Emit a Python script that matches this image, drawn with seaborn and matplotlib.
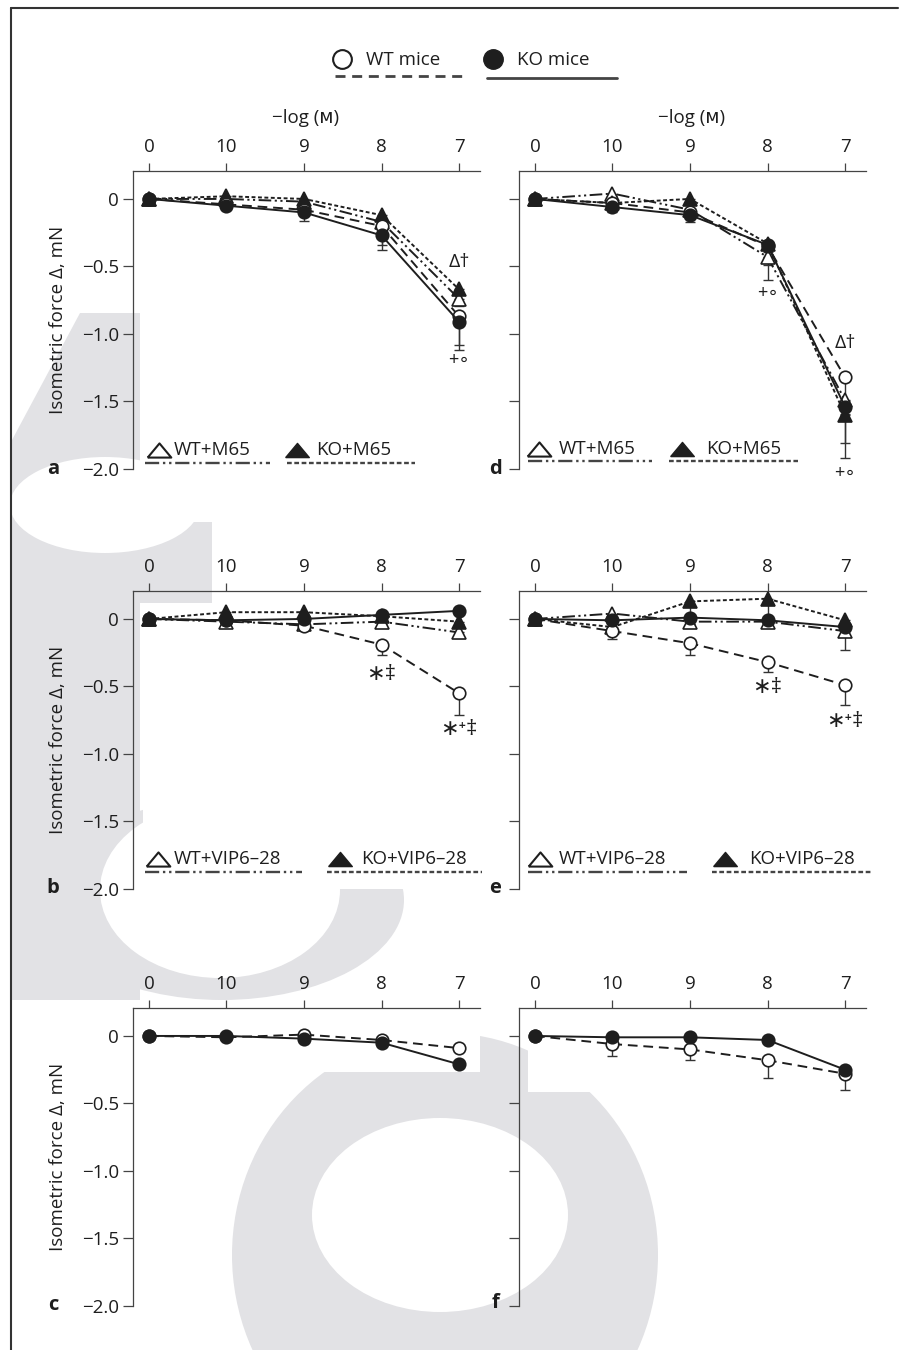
import matplotlib
matplotlib.use("Agg")
import numpy as np
import pandas as pd
import seaborn as sns
from matplotlib import pyplot as plt
from matplotlib.lines import Line2D
from matplotlib.patches import Ellipse, Polygon, Rectangle
from matplotlib.transforms import Affine2D

sns.set_theme(style="ticks")
plt.rcParams['font.family'] = ['Open Sans', 'DejaVu Sans']

W, H = 909, 1350
ink = "#1e1e1e"
spine_c = "#444444"
wm_grey = "#e2e2e5"

# x categories: -log(M), "0" = no agonist
conc_labels = ["0", "10", "9", "8", "7"]
y_ticks = [0, -0.5, -1.0, -1.5, -2.0]
y_ticklabels = ["0", "\u22120.5", "\u22121.0", "\u22121.5", "\u22122.0"]

# panel a (M65)
a_wt = [0.0, -0.04, -0.08, -0.20, -0.87]
a_wt_sem = [0.0, 0.02, 0.03, 0.14, 0.21]
a_ko = [0.0, -0.05, -0.10, -0.27, -0.91]
a_ko_sem = [0.0, 0.03, 0.06, 0.11, 0.21]
a_wt_drug = [0.0, 0.00, -0.02, -0.17, -0.74]
a_wt_drug_sem = [0.0, 0.01, 0.02, 0.05, 0.05]
a_ko_drug = [0.0, 0.02, 0.00, -0.12, -0.67]
a_ko_drug_sem = [0.0, 0.02, 0.02, 0.03, 0.09]

# panel d (M65)
d_wt = [0.0, -0.03, -0.10, -0.35, -1.32]
d_wt_sem = [0.0, 0.03, 0.05, 0.14, 0.18]
d_ko = [0.0, -0.06, -0.12, -0.34, -1.54]
d_ko_sem = [0.0, 0.04, 0.05, 0.05, 0.38]
d_wt_drug = [0.0, 0.04, -0.08, -0.43, -1.49]
d_wt_drug_sem = [0.0, 0.02, 0.04, 0.17, 0.10]
d_ko_drug = [0.0, -0.03, 0.00, -0.33, -1.60]
d_ko_drug_sem = [0.0, 0.03, 0.02, 0.03, 0.21]

# panel b (VIP6-28)
b_wt = [0.0, -0.01, -0.05, -0.19, -0.55]
b_wt_sem = [0.0, 0.01, 0.02, 0.08, 0.16]
b_ko = [0.0, -0.01, 0.00, 0.03, 0.06]
b_ko_sem = [0.0, 0.01, 0.01, 0.01, 0.01]
b_wt_drug = [0.0, -0.02, -0.04, -0.02, -0.10]
b_wt_drug_sem = [0.0, 0.01, 0.02, 0.02, 0.04]
b_ko_drug = [0.0, 0.05, 0.05, 0.02, -0.02]
b_ko_drug_sem = [0.0, 0.01, 0.01, 0.01, 0.02]

# panel e (VIP6-28)
e_wt = [0.0, -0.09, -0.18, -0.32, -0.49]
e_wt_sem = [0.0, 0.06, 0.09, 0.07, 0.15]
e_ko = [0.0, -0.01, 0.01, -0.01, -0.06]
e_ko_sem = [0.0, 0.01, 0.01, 0.01, 0.06]
e_wt_drug = [0.0, 0.04, -0.02, -0.02, -0.09]
e_wt_drug_sem = [0.0, 0.01, 0.02, 0.02, 0.14]
e_ko_drug = [0.0, -0.06, 0.13, 0.15, -0.01]
e_ko_drug_sem = [0.0, 0.03, 0.12, 0.15, 0.02]

# panels c, f (no antagonist)
c_wt = [0.0, -0.01, 0.01, -0.03, -0.09]
c_wt_sem = [0.0, 0.01, 0.01, 0.03, 0.02]
c_ko = [0.0, 0.00, -0.02, -0.05, -0.21]
c_ko_sem = [0.0, 0.01, 0.01, 0.03, 0.03]
f_wt = [0.0, -0.06, -0.10, -0.18, -0.28]
f_wt_sem = [0.0, 0.09, 0.08, 0.13, 0.12]
f_ko = [0.0, -0.01, -0.01, -0.03, -0.25]
f_ko_sem = [0.0, 0.01, 0.01, 0.01, 0.02]

panels = {
    "a": [("WTd", a_wt_drug, a_wt_drug_sem), ("KOd", a_ko_drug, a_ko_drug_sem),
          ("WT", a_wt, a_wt_sem), ("KO", a_ko, a_ko_sem)],
    "d": [("WTd", d_wt_drug, d_wt_drug_sem), ("KOd", d_ko_drug, d_ko_drug_sem),
          ("WT", d_wt, d_wt_sem), ("KO", d_ko, d_ko_sem)],
    "b": [("WTd", b_wt_drug, b_wt_drug_sem), ("KOd", b_ko_drug, b_ko_drug_sem),
          ("WT", b_wt, b_wt_sem), ("KO", b_ko, b_ko_sem)],
    "e": [("WTd", e_wt_drug, e_wt_drug_sem), ("KOd", e_ko_drug, e_ko_drug_sem),
          ("WT", e_wt, e_wt_sem), ("KO", e_ko, e_ko_sem)],
    "c": [("WT", c_wt, c_wt_sem), ("KO", c_ko, c_ko_sem)],
    "f": [("WT", f_wt, f_wt_sem), ("KO", f_ko, f_ko_sem)],
}

styles = {
    "WT": dict(marker="o", markersize=9, markerfacecolor="white", linestyle=(0, (5, 3))),
    "KO": dict(marker="o", markersize=9, markerfacecolor=ink, linestyle="-"),
    "WTd": dict(marker="^", markersize=9.5, markerfacecolor="white",
                linestyle=(0, (6.5, 1.8, 1.1, 1.8, 1.1, 1.8))),
    "KOd": dict(marker="^", markersize=9.5, markerfacecolor=ink, linestyle=(0, (2, 1.3))),
}

# significance marks: (panel, x position, y value, text, size)
notes = [
    ("a", 4, -0.47, "\u0394\u2020", 14), ("a", 4, -1.19, "+\u2218", 13),
    ("d", 3, -0.70, "+\u2218", 13), ("d", 4, -1.07, "\u0394\u2020", 14),
    ("d", 4, -2.03, "+\u2218", 13),
    ("b", 3, -0.41, "\u2217\u2021", 16), ("b", 4, -0.82, "\u2217\u207a\u2021", 16),
    ("e", 3, -0.51, "\u2217\u2021", 16), ("e", 4, -0.76, "\u2217\u207a\u2021", 16),
]

fig = plt.figure(figsize=(W / 100, H / 100), dpi=100)
px = Affine2D().scale(1 / W, -1 / H).translate(0, 1) + fig.transFigure


def fig_line(x0, x1, y, **kw):
    fig.add_artist(Line2D([x0, x1], [y, y], transform=px, **kw))


def fig_marker(x, y, **kw):
    fig.add_artist(Line2D([x], [y], transform=px, linestyle="none", **kw))


def fig_text(x, y, s, **kw):
    fig.text(x / W, 1 - y / H, s, **kw)


# light publisher watermark behind the panels
wm = [
    (Polygon([(12, 440), (80, 313), (140, 313), (140, 1000), (12, 1000)], closed=True), wm_grey, -4),
    (Rectangle((140, 522), 72, 81), wm_grey, -4),
    (Ellipse((222, 900), 364, 200), wm_grey, -4),
    (Ellipse((445, 1255), 426, 444), wm_grey, -4),
    (Ellipse((105, 505), 190, 96), "white", -3),
    (Ellipse((220, 890), 240, 176), "white", -3),
    (Ellipse((440, 1215), 256, 194), "white", -3),
    (Rectangle((140, 171), 342, 298), "white", -2),
    (Rectangle((143, 604), 339, 285), "white", -2),
    (Rectangle((142, 1027), 338, 45), "white", -2),
    (Rectangle((528, 1017), 325, 75), "white", -2),
]
for patch, col, z in wm:
    patch.set_transform(px)
    patch.set_facecolor(col)
    patch.set_edgecolor("none")
    patch.set_zorder(z)
    fig.add_artist(patch)

col_left = {"a": 133, "b": 133, "c": 133, "d": 519, "e": 519, "f": 519}
row_top = {"a": 171, "d": 171, "b": 591, "e": 591, "c": 1008, "f": 1008}
ax_w, ax_h = 347, 298

axes = {}
for key in ["a", "b", "c", "d", "e", "f"]:
    l, t = col_left[key], row_top[key]
    ax = fig.add_axes([l / W, 1 - (t + ax_h) / H, ax_w / W, ax_h / H])
    ax.set_facecolor("none")
    axes[key] = ax
    for name, mean, sem in panels[key]:
        df = pd.DataFrame({"pos": np.arange(len(conc_labels)), "force": mean})
        ax.errorbar(df["pos"], df["force"], yerr=[sem, np.zeros(len(sem))], fmt="none",
                    ecolor="#333333", elinewidth=1.0, capsize=3.8, capthick=1.0, zorder=2)
        st = styles[name]
        sns.lineplot(data=df, x="pos", y="force", ax=ax, color=ink, sort=False,
                     linewidth=1.4, markeredgecolor=ink, markeredgewidth=1.2,
                     zorder=3, **st)
    ax.set_xlim(-0.206, 4.27)
    ax.set_ylim(-2.0, 0.207)
    ax.set_xlabel("")
    ax.set_ylabel("")
    ax.xaxis.tick_top()
    ax.set_xticks(range(len(conc_labels)))
    ax.set_xticklabels(conc_labels)
    ax.set_yticks(y_ticks)
    if key in ("a", "b", "c"):
        ax.set_yticklabels(y_ticklabels)
    else:
        ax.set_yticklabels([])
    for s in ["right", "bottom"]:
        ax.spines[s].set_visible(False)
    for s in ["top", "left"]:
        ax.spines[s].set_color(spine_c)
        ax.spines[s].set_linewidth(0.9)
    ax.tick_params(axis="x", direction="out", length=5.5, width=0.9, color=spine_c,
                   pad=5, labelsize=13.5, labelcolor=ink, top=True, bottom=False,
                   labeltop=True, labelbottom=False)
    ax.tick_params(axis="y", direction="out", length=7, width=0.9, color=spine_c,
                   pad=3, labelsize=13.5, labelcolor=ink, left=True, right=False)

for key, xpos, yval, txt, size in notes:
    axes[key].text(xpos, yval, txt, ha="center", va="center", fontsize=size, color=ink,
                   clip_on=False, zorder=5)

# y labels, panel letters, x titles
for key in ["a", "b", "c"]:
    fig_text(58, row_top[key] + ax_h / 2, "Isometric force \u0394, mN", rotation=90,
             ha="center", va="center", fontsize=13.5, color=ink)
for key in ["a", "d"]:
    fig_text(col_left[key] + ax_w / 2 - 1, 118, "\u2212log (\u1d0d)", ha="center", va="center",
             fontsize=13.5, color=ink)
letter_pos = {"a": (53, 469), "b": (53, 888), "c": (53, 1305),
              "d": (495, 469), "e": (495, 888), "f": (495, 1303)}
for key, (x, y) in letter_pos.items():
    fig_text(x, y, key, ha="center", va="center", fontsize=14.5, fontweight="bold", color=ink)

# top legend
fig_marker(342, 59, marker="o", markersize=13.5, markerfacecolor="white",
           markeredgecolor=ink, markeredgewidth=1.5)
fig_text(366, 60, "WT mice", ha="left", va="center", fontsize=13.5, color=ink)
fig_line(335, 465, 76, color="#444444", linewidth=2.0, linestyle=(0, (3.6, 2.4)))
fig_marker(493, 59, marker="o", markersize=14, markerfacecolor=ink, markeredgecolor=ink)
fig_text(517, 60, "KO mice", ha="left", va="center", fontsize=13.5, color=ink)
fig_line(487, 617, 78, color="#444444", linewidth=2.0)

# panel legends
tri_wide = [(-1, -0.6), (1, -0.6), (0, 0.6), (-1, -0.6)]
legend_specs = {
    "a": (450, 463, "M65", (159, 174, 145, 270), (297, 316, 287, 415)),
    "d": (449, 461, "M65", (539, 559, 528, 652), (682, 706, 669, 798)),
    "b": (859, 872, "VIP6\u201328", (158, 174, 145, 302), (340, 361, 327, 482)),
    "e": (859, 872, "VIP6\u201328", (540, 559, 528, 687), (725, 749, 712, 872)),
}
for key, (yt, yl, drug, wt, ko) in legend_specs.items():
    fig_marker(wt[0], yt, marker=tri_wide, markersize=17, markerfacecolor="white",
               markeredgecolor=ink, markeredgewidth=1.5)
    fig_text(wt[1], yt, "WT+" + drug, ha="left", va="center", fontsize=13.5, color=ink)
    fig_line(wt[2], wt[3], yl, color="#444444", linewidth=1.7,
             linestyle=(0, (6, 1.6, 1, 1.6, 1, 1.6)))
    fig_marker(ko[0], yt, marker=tri_wide, markersize=17, markerfacecolor=ink,
               markeredgecolor=ink)
    fig_text(ko[1], yt, "KO+" + drug, ha="left", va="center", fontsize=13.5, color=ink)
    fig_line(ko[2], ko[3], yl, color="#444444", linewidth=1.7, linestyle=(0, (2, 1.1)))

# frame around the figure
fig_line(11, 898, 8, color="#333333", linewidth=1.5)
fig.add_artist(Line2D([11, 11], [8, H], transform=px, color="#333333", linewidth=1.5))

fig.savefig("out.png", dpi=100)
